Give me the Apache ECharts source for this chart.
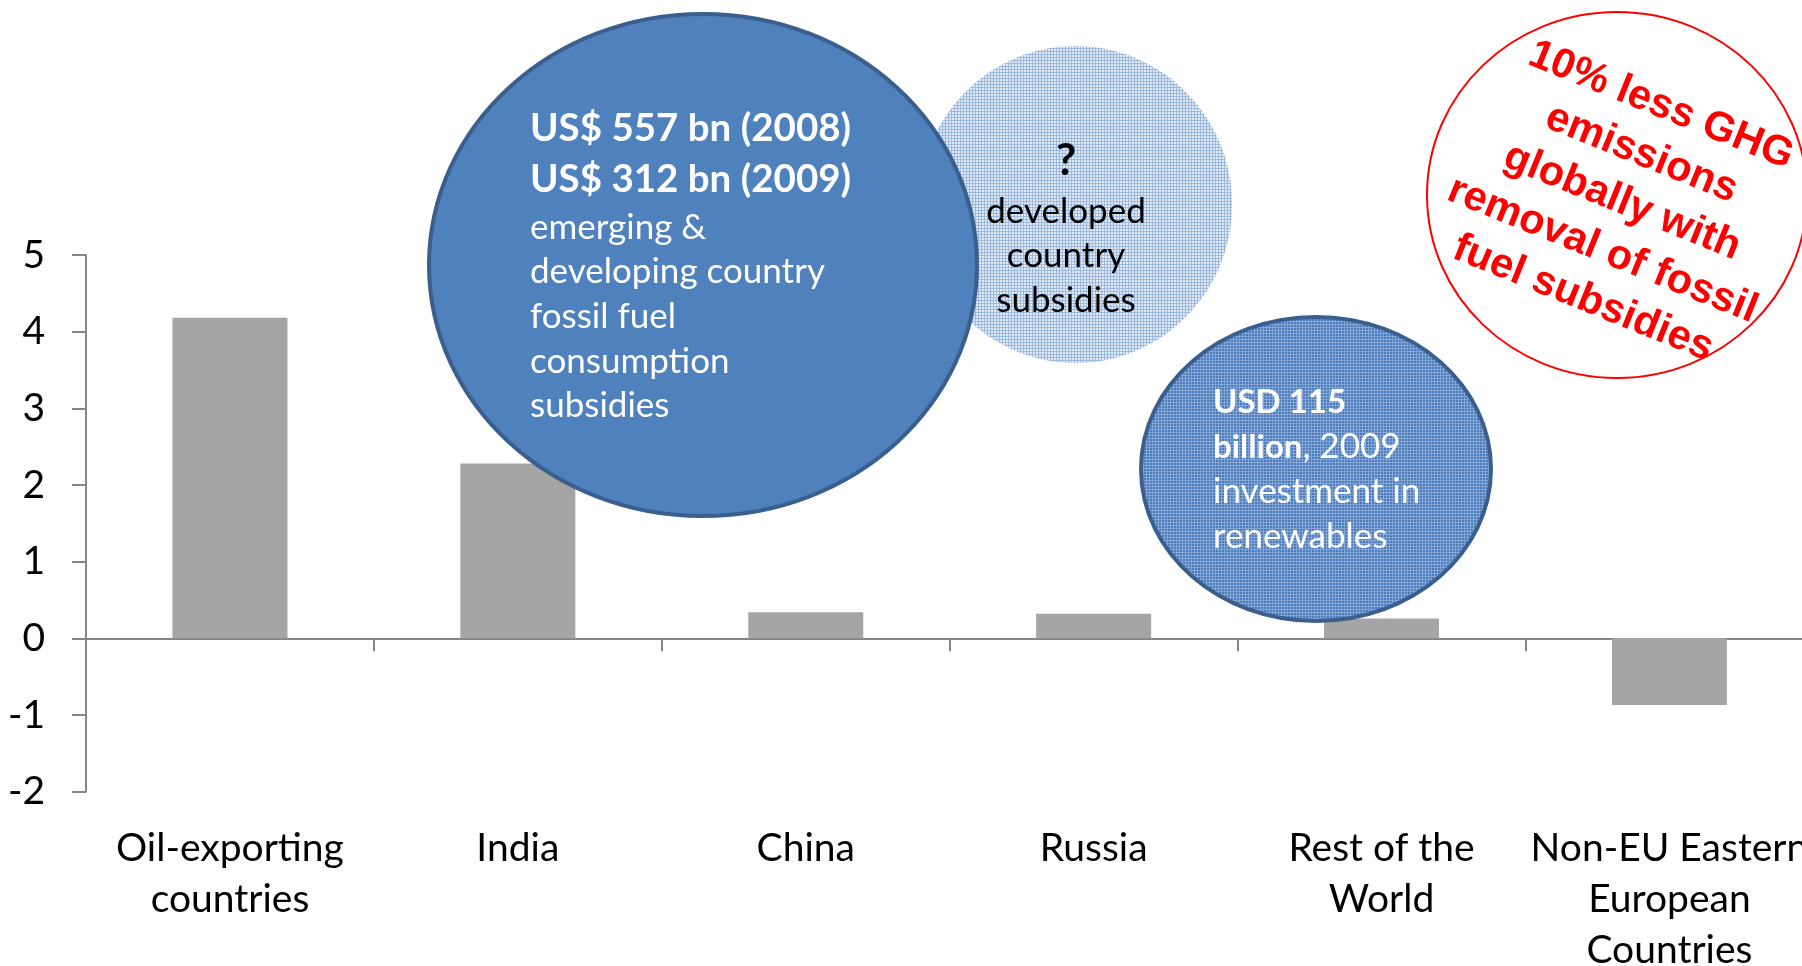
<!DOCTYPE html>
<html><head><meta charset="utf-8">
<script src="https://cdn.jsdelivr.net/npm/echarts@6/dist/echarts.min.js"></script>
<style>html,body{margin:0;padding:0;background:#fff}#c{width:1802px;height:966px}</style>
</head><body><div id="c"></div>
<script>
// ---- data ----
const categories = ['Oil-exporting\ncountries', 'India', 'China', 'Russia', 'Rest of the\nWorld', 'Non-EU Eastern\nEuropean\nCountries'];
const values = [4.18, 2.28, 0.34, 0.32, 0.26, -0.87];
const yMin = -2, yMax = 5, yInterval = 1;

const bigBubbleBold = ['US$ 557 bn (2008)', 'US$ 312 bn (2009)'];
const bigBubbleText = ['emerging &', 'developing country', 'fossil fuel', 'consumption', 'subsidies'];
const devBubbleText = ['developed', 'country', 'subsidies'];
const redText = '10% less GHG\nemissions\nglobally with\nremoval of fossil\nfuel subsidies';

// ---- styling ----
const FONT = 'Lato, "Open Sans", sans-serif';
const AXIS = '#868686';

function makePattern(bg, line, size) {
  const c = document.createElement('canvas');
  c.width = c.height = size;
  const g = c.getContext('2d');
  g.fillStyle = bg; g.fillRect(0, 0, size, size);
  g.fillStyle = line; g.fillRect(0, 0, size, 1); g.fillRect(0, 0, 1, size);
  return { image: c, repeat: 'repeat' };
}
const lightPat = makePattern('#e2eaf6', '#9cb9df', 3);
const darkPat = makePattern('#4a7cbc', '#86a7d6', 3);

const graphics = [];
// big blue bubble
graphics.push({ type: 'ellipse', z: 100, shape: { cx: 703, cy: 265, rx: 274, ry: 251 },
  style: { fill: '#4f81bd', stroke: '#3a5f8e', lineWidth: 4 } });
bigBubbleBold.forEach((t, i) => graphics.push({ type: 'text', z: 101, x: 530, y: 129 + i * 50.6,
  style: { text: t, font: 'bold 38.5px ' + FONT, fill: '#fff', verticalAlign: 'middle' } }));
bigBubbleText.forEach((t, i) => graphics.push({ type: 'text', z: 101, x: 530, y: 227.5 + i * 44.6,
  style: { text: t, font: '35px ' + FONT, fill: '#fff', verticalAlign: 'middle' } }));
// developed-country bubble (drawn under big bubble)
graphics.push({ type: 'ellipse', z: 99, shape: { cx: 1075.6, cy: 204.5, rx: 156.5, ry: 158.5 },
  style: { fill: lightPat, stroke: null } });
graphics.push({ type: 'text', z: 101, x: 1066, y: 161,
  style: { text: '?', font: 'bold 44px ' + FONT, fill: '#000', align: 'center', verticalAlign: 'middle' } });
devBubbleText.forEach((t, i) => graphics.push({ type: 'text', z: 101, x: 1066, y: 211.4 + i * 44.8,
  style: { text: t, font: '35px ' + FONT, fill: '#000', align: 'center', verticalAlign: 'middle' } }));
// renewables bubble
graphics.push({ type: 'ellipse', z: 100, shape: { cx: 1316, cy: 469, rx: 175, ry: 152 },
  style: { fill: darkPat, stroke: '#3a5f8e', lineWidth: 4 } });
graphics.push({ type: 'text', z: 101, x: 1213, y: 402,
  style: { text: 'USD 115', font: 'bold 33px ' + FONT, fill: '#fff', verticalAlign: 'middle' } });
graphics.push({ type: 'text', z: 101, x: 1213, y: 447,
  style: { text: '{b|billion}{r|, 2009}', verticalAlign: 'middle',
    rich: { b: { fontFamily: FONT, fontWeight: 'bold', fontSize: 33, fill: '#fff', color: '#fff' },
            r: { fontFamily: FONT, fontSize: 35, fill: '#fff', color: '#fff' } } } });
['investment in', 'renewables'].forEach((t, i) => graphics.push({ type: 'text', z: 101, x: 1213, y: 492 + i * 45,
  style: { text: t, font: '35px ' + FONT, fill: '#fff', verticalAlign: 'middle' } }));
// red ellipse
graphics.push({ type: 'ellipse', z: 100, shape: { cx: 1617, cy: 195, rx: 190, ry: 183 },
  style: { fill: '#fff', stroke: '#ff0000', lineWidth: 2 } });
graphics.push({ type: 'text', z: 101, x: 1622, y: 202, rotation: -22 * Math.PI / 180,
  style: { text: redText, font: 'bold 41.5px "Liberation Sans", Arial, sans-serif', fill: '#ff0000',
    align: 'center', verticalAlign: 'middle', lineHeight: 52 } });

const chart = echarts.init(document.getElementById('c'), null, { renderer: 'canvas' });
chart.setOption({
  animation: false,
  backgroundColor: '#fff',
  grid: { left: 86, top: 255, width: 1727.4, height: 536.7, containLabel: false, outerBoundsMode: 'none' },
  xAxis: [
    { type: 'category', data: categories, position: 'bottom',
      axisLine: { onZero: true, lineStyle: { color: AXIS, width: 2 } },
      axisTick: { show: true, length: 13, lineStyle: { color: AXIS, width: 2 } },
      axisLabel: { show: false }, splitLine: { show: false } },
    { type: 'category', data: categories, position: 'bottom',
      axisLine: { show: false, onZero: false }, axisTick: { show: false },
      axisLabel: { show: true, margin: 31, color: '#000', fontFamily: FONT, fontSize: 39, lineHeight: 51, interval: 0, align: 'center' },
      splitLine: { show: false } }
  ],
  yAxis: {
    type: 'value', min: yMin, max: yMax, interval: yInterval,
    axisLine: { show: true, lineStyle: { color: AXIS, width: 2 } },
    axisTick: { show: true, length: 14, lineStyle: { color: AXIS, width: 2 } },
    axisLabel: { margin: 41, color: '#000', fontFamily: FONT, fontSize: 39 },
    splitLine: { show: false }
  },
  series: [{ type: 'bar', xAxisIndex: 0, data: values, barWidth: 115, itemStyle: { color: '#a5a5a5' } }],
  graphic: graphics
});
</script></body></html>
